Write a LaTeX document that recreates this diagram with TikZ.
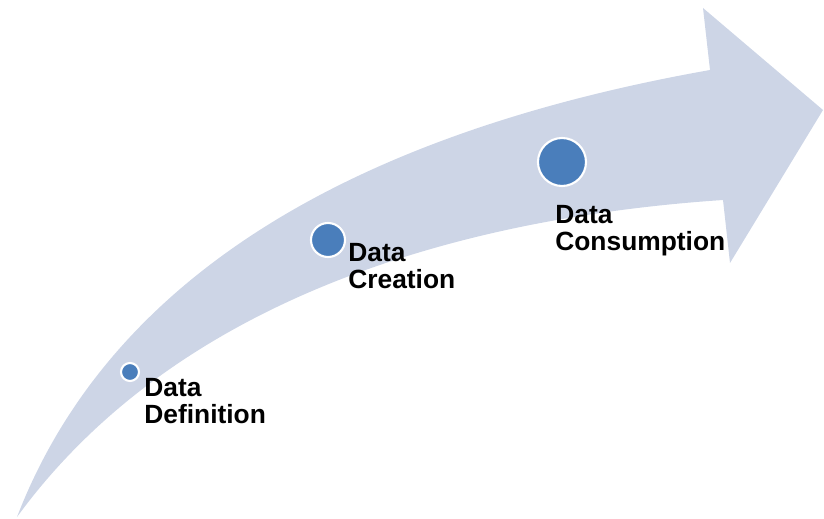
\documentclass[tikz,border=0pt]{standalone}
\usepackage{fontspec}
\setmainfont{Liberation Sans}
\usepackage{tikz}
\usetikzlibrary{positioning}
\usepackage{xcolor}
\definecolor{band}{HTML}{CDD5E6}
\definecolor{dotblue}{HTML}{4A7EBB}

\begin{document}
\begin{tikzpicture}[
    font=\bfseries\fontsize{15}{15.5}\selectfont,
    stage/.style={circle, fill=dotblue, draw=white, line width=1.2pt, inner sep=0pt},
    stagelabel/.style={anchor=north west, inner sep=0pt, align=left, text=black}]
    \useasboundingbox (0,0) rectangle (16.48,10.36);
    \fill[band] (0.34,0.02) .. controls (2.4,5.36) and (8.0,7.86) .. (14.2,8.96)
        -- (14.06,10.2) -- (16.46,8.16) -- (14.6,5.1) -- (14.46,6.36)
        .. controls (10.0,6.06) and (3.8,4.76) .. (0.34,0.02) -- cycle;
    \node[stage, minimum size=0.36cm] (definition) at (2.6,2.92) {};
    \node[stage, minimum size=0.68cm] (creation) at (6.56,5.56) {};
    \node[stage, minimum size=0.96cm] (consumption) at (11.24,7.12) {};
    \node[stagelabel] (definitionlabel) at (2.88,2.8) {Data\\Definition};
    \node[stagelabel] (creationlabel) at (6.96,5.5) {Data\\Creation};
    \node[stagelabel] (consumptionlabel) at (11.1,6.26) {Data\\Consumption};
\end{tikzpicture}
\end{document}
